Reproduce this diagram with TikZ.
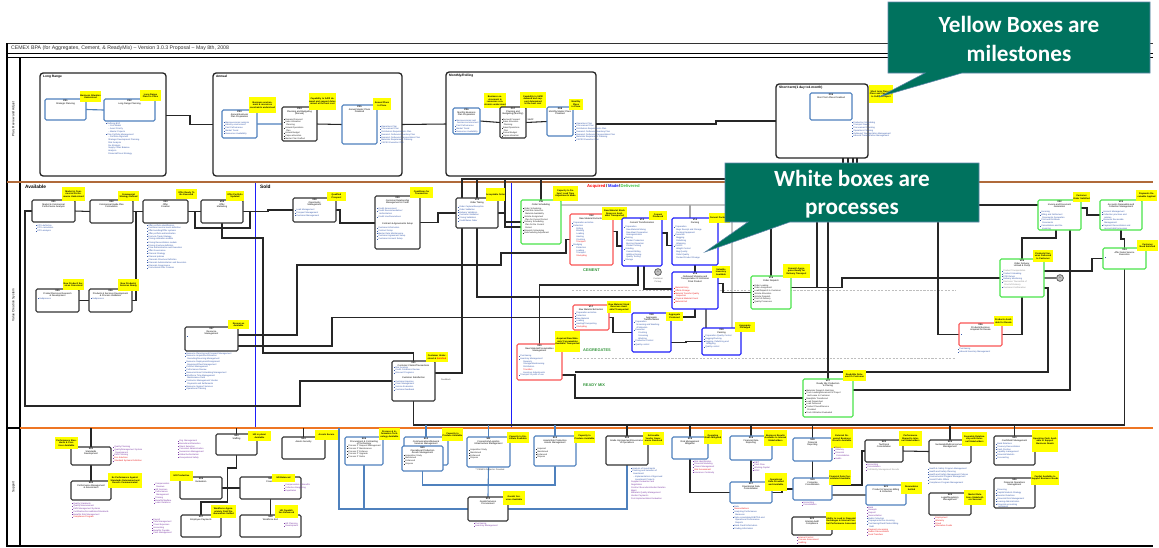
\documentclass[tikz,border=0pt]{standalone}
\usepackage{fontspec}
\setmainfont{Liberation Sans}
\newfontfamily\calloutfont{Carlito}
\usetikzlibrary{calc}
\pgfdeclarelayer{wires}
\pgfsetlayers{wires,main}

\definecolor{pblue}{RGB}{79,129,189}
\definecolor{mblue}{RGB}{30,30,250}
\definecolor{ared}{RGB}{250,85,85}
\definecolor{dgreen}{RGB}{75,228,75}
\definecolor{txtblue}{RGB}{55,90,170}
\definecolor{txtpurple}{RGB}{125,60,165}
\definecolor{txtred}{RGB}{235,30,30}
\definecolor{calloutfill}{RGB}{0,114,94}
\definecolor{calloutedge}{RGB}{96,134,170}
\definecolor{lanebrown}{RGB}{176,106,58}
\definecolor{laneorange}{RGB}{238,118,36}
\definecolor{msyellow}{RGB}{255,255,0}
\definecolor{lblgreen}{RGB}{52,150,60}
\definecolor{dashgray}{RGB}{190,190,190}

% list markers
\newcommand\bu{\textcolor{txtblue}{\rule[0.4pt]{0.9pt}{0.9pt}}\hspace{0.8pt}}
\newcommand\bpu{\textcolor{txtpurple}{\rule[0.4pt]{0.9pt}{0.9pt}}\hspace{0.8pt}}
\newcommand\kb{\rule[0.4pt]{0.9pt}{0.9pt}\hspace{0.8pt}}
\newcommand\ind{\hspace{3pt}}
\newcommand\rd[1]{\textcolor{txtred}{#1}}

\tikzset{
  boxbase/.style={line width=1.6pt, rounded corners=2pt, fill=white, inner sep=0pt, outer sep=0pt},
  kbox/.style={boxbase, draw=black!80},
  bbox/.style={boxbase, draw=pblue},
  mbox/.style={boxbase, draw=mblue},
  rbox/.style={boxbase, draw=ared},
  gbox/.style={boxbase, draw=dgreen},
  grp/.style={draw=black!85, line width=1.9pt, rounded corners=4.5pt, inner sep=0pt, outer sep=0pt},
  btitle/.style={font=\fontsize{3.3}{3.8}\selectfont, align=center, inner sep=0.3pt, text=black},
  mstone/.style={fill=msyellow, font=\bfseries\fontsize{3.2}{3.6}\selectfont, align=center, inner sep=0pt, outer sep=0pt},
  blist/.style={font=\fontsize{3.1}{3.9}\selectfont, align=left, inner sep=0pt},
  wire/.style={draw=black!85, line width=1.5pt},
  gwire/.style={draw=black!35, line width=1.5pt},
  bwire/.style={draw=pblue, line width=1.6pt},
  heading/.style={font=\bfseries\fontsize{6.8}{7}\selectfont, inner sep=0pt, anchor=north west},
  grplabel/.style={font=\bfseries\fontsize{4.6}{5}\selectfont, inner sep=0pt, anchor=north west},
  lanelabel/.style={font=\fontsize{4.6}{5}\selectfont, rotate=90, inner sep=0pt},
  prodlabel/.style={font=\bfseries\fontsize{5.6}{6}\selectfont, text=lblgreen, inner sep=0pt, anchor=north west},
  callout/.style={fill=calloutfill, draw=calloutedge, line width=0.8pt},
  callouttext/.style={font=\calloutfont\bfseries\fontsize{33}{40}\selectfont, text=white, align=center, inner sep=0pt},
  note/.style={font=\fontsize{3.1}{3.6}\selectfont, inner sep=0pt},
}

% process box: name, style, x1, y1, x2, y2, title
\newcommand\PB[7]{%
  \pgfmathsetmacro\pbw{(#5-#3)*0.05}%
  \pgfmathsetmacro\pbh{(#6-#4)*0.05}%
  \node[#2, anchor=north west, minimum width=\pbw cm, minimum height=\pbh cm] (#1) at (#3,#4) {};
  \node[btitle, anchor=north] (#1-t) at ([yshift=-0.8pt]#1.north) {#7};}
% milestone: name, x1, y1, x2, y2, text
\newcommand\MS[6]{%
  \pgfmathsetmacro\pbw{(#4-#2)*0.05}%
  \pgfmathsetmacro\pbh{(#5-#3)*0.05}%
  \node[mstone, anchor=north west, minimum width=\pbw cm, minimum height=\pbh cm, text width=\pbw cm] (#1) at (#2,#3) {#6};}
% bullet list: [colour], name, x, y, lines
\newcommand\BL[5][txtblue]{\node[blist, text=#1, anchor=north west] (#2) at (#3,#4) {#5};}
% horizon group: name, x1, y1, x2, y2, label
\newcommand\GR[6]{%
  \pgfmathsetmacro\pbw{(#4-#2)*0.05}%
  \pgfmathsetmacro\pbh{(#5-#3)*0.05}%
  \node[grp, anchor=north west, minimum width=\pbw cm, minimum height=\pbh cm] (#1) at (#2,#3) {};
  \node[grplabel] (#1-l) at ($(#1.north west)+(3,2.5)$) {#6};}

\begin{document}
\begin{tikzpicture}[x=0.05cm, y=-0.05cm]
\useasboundingbox (0,0) rectangle (1159,547);

% ================= frame and swim lanes =================
\begin{pgfonlayer}{wires}
\fill[white] (0,0) rectangle (1159,547);
\draw[line width=1.1pt, black!80] (7,43) -- (1153,43);
\draw[line width=1.1pt] (7,53.5) -- (1153,53.5);
\draw[line width=1.8pt] (7,57.5) -- (1153,57.5);
\draw[line width=1.6pt] (7,43) -- (7,546) -- (1153,546);
\draw[line width=1.6pt] (20,57.5) -- (20,546);
\draw[lanebrown, line width=2.6pt] (7,182) -- (1153,182);
\draw[laneorange, line width=1.8pt] (20,428) -- (1153,428);
\draw[line width=1.8pt] (7,428) -- (20,428);
\draw[mblue, line width=1.4pt] (255,183) -- (255,427);
\draw[mblue, line width=1.4pt] (511,183) -- (511,427);
\draw[dashgray, line width=1.8pt, dash pattern=on 3pt off 2pt] (572,290.5) -- (956,290.5);
\draw[dashgray, line width=1.8pt, dash pattern=on 3pt off 2pt] (573,358.5) -- (956,358.5);
\end{pgfonlayer}
\node[anchor=west, font=\fontsize{7.4}{8}\selectfont, inner sep=0pt, text=black!80] (title) at (11,48.3)
  {CEMEX BPA (for Aggregates, Cement, \& ReadyMix) – Version 3.0.3 Proposal – May 8th, 2008};
\node[lanelabel] (lane1) at (13.5,119) {Plan, Review and Adjust};
\node[lanelabel] (lane2) at (13.5,305) {Value Creation System};
\node[lanelabel] (lane3) at (13.5,487) {Support};

% ================= planning lane =================
\GR{G1}{40}{73}{166}{176}{Long Range}
\GR{G2}{213}{73}{402}{176}{Annual}
\GR{G3}{446}{72}{596}{176}{Monthly/Rolling}
\GR{G4}{776}{84}{868}{158}{Short term(1 day to1 month)}

\PB{P01}{bbox}{45}{99}{86}{120}{\textbf{P01}\\Strategic Planning}
\PB{P02}{bbox}{104}{99}{155}{121}{\textbf{P02}\\Long Range Planning}
\MS{M01}{80}{91}{101}{102}{Business Situation Understood}
\MS{M02}{140}{90}{161}{101}{Long Range Plans in Place}
\BL{L02}{106}{122.5}{\bu Defining BSP\\\ind – Cost Model\\\ind – Asset Priority\\\ind – Master Projects\\\bu Plan Portfolio Management\\\ind – Portfolio Alignment\\\ind Strategic Development Planning\\\ind Risk Analysis\\\ind Re-Strategic\\\ind Supply Chain Balance\\\ind Analysis\\\ind Financial/Fiscal Strategy}

\PB{P03}{bbox}{222}{110}{257}{138}{\textbf{P03}\\Annual Business\\Plan Preparation}
\BL{L03}{224}{121.5}{\bu Macroeconomic analysis\\\bu Industry environment\\\bu Past Performance\\\bu Market Trend\\\bu Resources Availability}
\MS{M03}{249}{97}{276}{113}{Business environment \& resources constraints understood}
\PB{P04}{kbox}{282}{107}{317}{141}{\textbf{P04}\\Planning and Budgeting\\(Annual)}
\BL[black!85]{L04}{284}{118.5}{\kb Demand Forecast\\\kb Sales Allocation\\\ind Planning\\\kb Annual Operations\\\ind Plan\\\kb Annual Budget\\\kb Capex allocation\\\kb Master Plan Drafted}
\MS{M04}{309}{93}{336}{110}{Capability to fulfill demand and support determined at the best cost}
\PB{P05}{bbox}{342}{105}{377}{144}{\textbf{P05}\\Annual Master Plans\\Finalized}
\MS{M05}{373}{98}{391}{110}{Annual Plans in Place}
\BL{L05}{380}{125.5}{\bu Operations Plan\\\bu Procurement Plan\\\bu Distribution Requirements Plan\\\bu Demand: Outbound Inventory Plan\\\bu Demand: Outbound Transportation Plan\\\bu Materials Requirement Planning\\\bu CAPEX Execution Plan}

\PB{P06}{bbox}{453}{108}{480}{134}{\textbf{P06}\\Monthly Business\\Plan Preparation}
\BL{L06}{455}{119.5}{\bu Macroeconomic and\\\ind business environment\\\bu Past Performance\\\bu Market Trend\\\bu Resources Availability}
\MS{M06}{484}{93}{506}{108}{Business environment \& resources constraints understood}
\PB{P07}{kbox}{500}{107}{526}{138}{\textbf{P07}\\Planning and\\Budgeting (Monthly)}
\BL[black!85]{L07}{501.5}{118.5}{\kb Demand Forecast\\\kb Sales Allocation\\\ind Planning\\\kb Sales/Operations\\\ind Plan\\\kb Annual Budget\\\kb Capex allocation}
\MS{M07}{520}{92}{546}{108}{Capability to fulfill demand and support determined at the best cost}
\node[note, anchor=south west] (sop) at (527.5,121) {S\&OP};
\PB{P08}{bbox}{547}{107}{573}{136}{\textbf{P08}\\Monthly Master Plans\\Finalized}
\MS{M08}{569}{99}{583}{110}{Monthly Plans in Place}
\BL{L08}{575}{122.5}{\bu Operations Plan\\\bu Procurement Plan\\\bu Distribution Requirements Plan\\\bu Demand: Outbound Inventory Plan\\\bu Demand: Outbound Transportation Plan\\\bu Materials Requirement Planning\\\bu CAPEX Execution Plan}

\PB{P09}{bbox}{810}{93}{852}{120}{\textbf{P09}\\Short Term Plans Finalized}
\MS{M09}{869}{85}{893}{103}{Short term Plans in Place and Capability to Fulfill Prospect}
\BL{L09}{852}{121.5}{\bu Production Scheduling\\\bu Transport Needs\\\bu Procurement Planning\\\bu Operations Planning\\\bu Outbound Transportation Management\\\bu Inbound Transportation Management}

% ================= value creation lane =================
\node[heading] (avail) at (25,185) {Available};
\node[heading] (sold) at (260,185) {Sold};
\node[anchor=north west, font=\bfseries\fontsize{6}{6}\selectfont, inner sep=0pt] (amd) at (587,183.8)
  {\textcolor{red}{Acquired}\,/\,\textcolor{mblue}{Made}/\,\textcolor{dgreen!85!black}{Delivered}};
\node[prodlabel] (cement) at (583,269) {CEMENT};
\node[prodlabel] (aggr) at (583,349) {AGGREGATES};
\node[prodlabel] (rmix) at (583,384) {READY MIX};

\PB{V01}{kbox}{32}{200}{75}{222}{\textbf{V01}\\Market \& Commercial\\Performance Analysis}
\MS{MV01}{62}{187}{85}{201}{Market \& Commercial Performance Understood}
\BL{LV01}{36}{224.5}{\bu KPI's definition\\\bu KPI's calculation\\\bu KPI's analysis}
\PB{V02}{kbox}{90}{200}{133}{223}{\textbf{V02}\\Commercial Guide Plan\\Formulation}
\MS{MV02}{118}{191}{139}{201}{Commercial Strategy Defined}
\PB{V03}{kbox}{143}{200}{188}{223}{\textbf{V03}\\Offer\\Creation}
\MS{MV03}{176}{189}{197}{198.5}{Offer Ready To Be Executed}
\BL{LV03}{147}{224.5}{\bu Offer portfolio identification\\\bu Customer service levels definition\\\bu Offer bundling/Offer systems\\\bu Offer portfolio administration\\\bu Promote Trade Strategy\\\bu Pricing calibration models\\[1pt]\bu Pricing Reconciliation models\\\bu Pricing structure definition\\\bu Price Administration and Execution\\\bu Offer Governance\\\bu Channel Strategy\\\bu Channel policies\\[1pt]\bu Channels Structure Definition\\\bu Channels Administration and Execution\\\bu Channels Governance\\\bu Promotional Offer Creation}
\PB{V04}{kbox}{201}{200}{243}{223}{\textbf{V04}\\Offer\\Marketing}
\MS{MV04}{226}{191}{244}{201}{Offer Portfolio Updated}
\PB{V05}{kbox}{36}{289}{79}{312}{\textbf{V05}\\Product/Services Research\\\& Development}
\BL{LV05}{38}{297.5}{\bu Subprocess}
\MS{MV05}{63}{279}{84}{290}{New Product/ Services Conceived}
\PB{V06}{kbox}{89}{289}{132}{312}{\textbf{V06}\\Products \& Services Development\\\& Process Validation}
\BL{LV06}{91}{297.5}{\bu Subprocess}
\MS{MV06}{118}{279}{139}{291}{New Products/ Services Ready}
\PB{V07}{kbox}{185}{327}{238}{351}{\textbf{V07}\\Resource\\Management}
\BL{LV07x}{187}{336}{\bu}
\MS{MV07}{228}{320}{249}{329}{Resources Available}
\BL{LV07}{185}{352.5}{\bu Resource Planning and Forecast Management\\\bu Resource Acquisition/Allocation\\\ind Recruiting/Sourcing Management\\\bu Resource Deployment/Assignment\\\ind Equipment/Fleet Management\\\bu Contract Management\\\bu Performance Review\\\bu Resource/Asset Scheduling Management\\\bu Workforce Time Management\\\ind Maintenance Field\\\bu Contractor Management/ Vendor\\\ind Payments and Settlements\\\bu Resource Support Services\\\bu Operational Training}
\PB{V08}{kbox}{293}{198}{336}{222}{\textbf{V08}\\Opportunity\\Management}
\BL{LV08}{295}{209}{\bu Lead Management\\\bu Prospect Management\\\bu Customer Management}
\MS{MV08}{327}{192}{346}{200.5}{Qualified Prospect}
\PB{V09}{kbox}{375}{196}{420}{249}{\textbf{V09}\\Customer Relationship\\Management \& Credit}
\BL{LV09a}{377}{207.5}{\bu Credit Assessment\\\bu Credit Recommendation/\\\ind Authorization\\\bu Credit Line/Guarantees}
\node[btitle, anchor=north] (V09-s) at ($(V09.north)+(0,27)$) {Contract \& Agreements Setup};
\BL{LV09b}{377}{227}{\bu Customer Information\\\bu Contract Setup\\\bu Master Data Maintenance\\\bu Customer Agreement Setup\\\bu Customer Account Setup}
\MS{MV09}{410}{187}{433}{198}{Conditions for Transaction}
\PB{V10}{kbox}{456}{198}{498}{228}{\textbf{V10}\\Order Taking}
\BL{LV10}{458}{206}{\bu Order Capture/Reception\\\bu Order Validation\\\bu Delivery Validation\\\bu Customer Validation\\\bu Pricing Validation\\\bu Credit/Sales Order}
\MS{MV10}{486}{188}{505}{201}{Acceptable Order}
\PB{V11}{gbox}{521}{200}{561}{244}{\textbf{V11}\\Order Scheduling}
\BL[black!85]{LV11}{523}{207.5}{\kb Order Scheduling\\\kb Plant/Site Selection\\\ind Material Availability\\\kb Vehicle Assignment\\\ind Plan for Current Period\\\kb Delivery Scheduling\\\ind Plan for the Current\\\ind Period\\\kb Dispatch Scheduling\\\kb Rescheduling Adjustment}
\MS{MV11}{553}{186}{578}{201}{Capacity to Deliver/ Lead Time Adjustments Made}
\PB{V12}{rbox}{570}{214}{613}{265}{\textbf{V12}\\Raw Material Extraction}
\BL{LV12}{572}{222}{\bu Preparation activities\\\bu Extraction\\\ind\ind Drilling\\\ind\ind Blasting\\\ind\ind Loading\\\ind\ind Hauling\\\ind\ind Crushing\\\ind\ind \rd{Transport}\\\bu Dredging\\\ind\ind Extraction\\\ind\ind Loading\\\ind\ind Transport\\\ind\ind \rd{Stockpiling}}
\MS{MV12}{602}{207}{627}{220}{Raw Material Stock Reserves Available/ Transported}
\PB{V13}{mbox}{622}{218}{662}{266}{\textbf{V13}\\Cement Transformation}
\BL{LV13}{624}{226}{\bu Preparation\\\ind Raw Material Mixing\\\ind Raw Meal Preparation\\\ind Homogenization\\\bu Burning\\\ind Clinker Production\\\ind Burning Operation\\\ind Clinker Cooling\\\bu Grinding\\\ind Cement Milling\\\ind Additive Dosing\\\ind Quality Testing\\\bu Storage}
\MS{MV13}{649}{211}{667}{220}{Cement Produced}
\PB{V14}{mbox}{672}{218}{718}{265}{\textbf{V14}\\Packing}
\BL{LV14}{674}{226}{\bu Preparation\\\ind Bags Receipt and Storage\\\ind Packing Equipment\\\bu Execution\\\ind Bagging\\\ind Palletizing\\\ind Wrapping\\\bu Control\\\ind Weight Control\\\ind Bag Quality\\\ind Pallet Quality\\[1pt]\ind Packed Product Storage}
\MS{MV14}{709}{213}{730}{223}{Cement Packaged}
\node[circle, draw=black!70, fill=black!25, line width=0.9pt, minimum size=0.34cm, inner sep=0pt, font=\fontsize{2.5}{3}\selectfont] (c1) at (658,272) {R};
\node[note, text=black!60, align=center, anchor=north] (c1-l) at (658,278) {Customer\\Pickup};
\PB{V15}{mbox}{672}{272}{718}{309}{\textbf{V15}\\Outbound Shipping and\\Transportation to Customer\\Final Product}
\BL[txtred]{LV15}{674}{287}{\kb Material Entry\\\kb Offsite Storage\\\kb Material Transfer Quality\\\ind Inspection\\\kb Physical Material Count\\\kb Material Exit}
\MS{MV15}{712}{266}{730}{278}{Saleable Inventory Available}
\PB{V16}{gbox}{751}{276}{791}{309}{\textbf{V16}\\Order Dispatch}
\BL[black!85]{LV16}{753}{284.5}{\kb Order Loading\\\kb Order Assignment\\\kb Load/Dispatch to Customer\\\kb Vehicle Allocation\\\kb Vehicle Dispatch\\\kb Proof-of-Delivery\\\kb Quality Processes}
\MS{MV16}{783}{264}{810}{278}{Cement/ Aggregates Ready for Delivery Transport}
\PB{V17}{rbox}{573}{305}{609}{330}{\textbf{V17}\\Raw Material Extraction}
\BL{LV17}{575}{312}{\bu Preparation activities\\\bu Extraction\\\bu Raw Material\\\bu Loading\\\bu Hauling/Transporting\\\bu \rd{Stockpiling}}
\MS{MV17}{607}{301}{631}{313}{Raw Material Stock Reserves Available/ Transported}
\PB{V18}{mbox}{632}{313}{671}{352}{\textbf{V18}\\Aggregate\\Transformation}
\BL{LV18}{634}{321}{\bu Preparation\\\ind Screening and Washing\\\ind of Materials\\\bu Execution\\\ind\ind Crushing\\\ind\ind Screening\\\ind\ind Washing\\\bu Production Control\\[1pt]\bu Quality control}
\MS{MV18}{666}{312}{683}{320.5}{Aggregate Produced}
\PB{V19}{mbox}{702}{328}{741}{355}{\textbf{V19}\\Packing}
\BL{LV19}{704}{335}{\bu Preparation Quality Control\\\bu Bagging/Packing\\\bu Bagging, Palletizing and\\\ind Wrapping\\\bu Quality control}
\MS{MV19}{735}{322}{755}{332}{Aggregate Packaged}
\PB{V20}{rbox}{517}{344}{562}{380}{\textbf{V20}\\Raw Material/Consumables\\Management}
\BL{LV20}{519}{355}{\bu Purchasing\\\bu Inventory Management\\\ind\ind Receipts\\\ind\ind Storage/Warehousing\\\ind\ind Distribution\\\ind\ind \rd{Transfers}\\\ind\ind Inventory Adjustments\\\bu Transport to point of use}
\MS{MV20}{555}{331}{580}{352}{Acquired Raw Materials/ Consumables Available/ Transported}
\PB{V21}{kbox}{392}{361}{435}{401}{\textbf{V21}\\Customer Claims/Transactions}
\BL{LV21a}{394}{366.5}{\bu Risk Analysis\\\bu Credit Conditions Review\\\bu Discount Programs}
\node[btitle, anchor=north] (V21-s) at ($(V21.north)+(0,15.5)$) {Customer Satisfaction};
\BL{LV21b}{394}{380.5}{\bu Customer Inquiries\\\bu Claim Management\\\bu Service Evaluation\\\bu Customer feedback}
\MS{MV21}{426}{352}{448}{362}{Customer Understood \& \textcolor{red}{Satisfied}}
\node[note, text=black!70, anchor=west] (fbk) at (441,380) {Feedback};
\PB{V22}{gbox}{1038}{200}{1081}{230}{\textbf{V22}\\Invoice and Document\\Generation}
\BL{LV22}{1040}{211}{\bu Invoicing\\\bu Billing and Settlement\\\ind Documents Generation\\\bu Print and Distribute\\\ind Documents\\\bu Cancellations and Re-\\\ind invoicing}
\MS{MV22}{1073}{192}{1090}{202}{Customer Order Satisfied}
\PB{V23}{gbox}{1100}{200}{1142}{230}{\textbf{V23}\\Accounts Receivable and\\Collection Management}
\BL{LV23}{1102}{211}{\bu Account Management\\\bu Collection practices and\\\ind policies\\\bu Accounts Receivable\\\ind Management\\\bu Payment Reconciliation and\\\ind account debt processes}
\MS{MV23}{1136}{190}{1157}{201}{Payments Receivable Applied}
\PB{V24}{gbox}{1103}{248}{1146}{269}{\textbf{V24}\\After Sales Service\\Execution}
\BL{LV24}{1105}{256.5}{\bu}
\MS{MV24}{1137}{240}{1158}{251}{Customer Need Satisfied}
\PB{V25}{gbox}{1000}{259}{1044}{297}{\textbf{V25}\\Order Delivery,\\Unload \& Pump}
\BL{LV25}{1002}{270}{\bu \textcolor{black!45}{Product Transportation}\\\bu Product Unloading\\\bu POD Return\\\bu Delivery Monitoring\\\bu \textcolor{black!45}{Electronic Transmittal of}\\\ind \textcolor{black!45}{Proof-of-Delivery}\\\bu \textcolor{black!45}{Customer Confirmation}}
\MS{MV25}{1033}{250}{1053}{262}{Products/ Services Delivered to Customer}
\node[circle, draw=black!70, fill=black!25, line width=0.9pt, minimum size=0.34cm, inner sep=0pt, font=\fontsize{2.5}{3}\selectfont] (c2) at (1060,278) {D};
\PB{V26}{rbox}{959}{323}{1002}{346}{\textbf{V26}\\Products/Services\\Acquired for Resale}
\BL{LV26x}{961}{334}{\bu}
\BL{LV26}{958}{348}{\bu Purchasing\\\bu Inbound Inventory Management}
\MS{MV26}{994}{316}{1013}{326}{Products Available for Resale}
\PB{V27}{gbox}{803}{379}{853}{417}{\textbf{V27}\\Ready Mix Production\\\& Placing}
\BL[black!85]{LV27}{805}{389.5}{\kb Materials Dispatch, Batching\\\kb Truck Loading/Movement to Project\\\ind and Lease to Customer\\\kb ReadyMix Transferred\\\kb Load Dispatched\\\kb Load Delivered\\\kb Product Placed/Service\\\ind Provided\\\kb Truck Utilization Evaluated}
\MS{MV27}{843}{370}{866}{381}{ReadyMix Delivered to Customer}

% ================= support lane =================
\PB{S01}{kbox}{71}{447}{111}{465}{\textbf{S01}\\Standards\\Development}
\MS{MS01}{55}{437}{78}{449}{Performance Standards \& Practices Available}
\BL[txtpurple]{LS01}{113}{446}{\bpu Quality Planning\\\bpu Quality/Management System\\\ind Development\\\bpu EMS Planning\\\rd{\bpu Eco-Solutions}\\\rd{\bpu Standard Systems Definition}}
\PB{S02}{kbox}{71}{481}{111}{500}{\textbf{S02}\\Performance Management\\\& Assessment}
\MS{MS02}{108}{473}{142}{488}{Ex Performance Against Standards Determined and Results Communicated}
\BL[txtpurple]{LS02}{72}{502.5}{\bpu Quality Standards\\\bpu Quality Measurement\\\bpu EMS Management Systems\\\bpu Certification/Accreditation/Standards\\\bpu Benefits Risk Management\\\rd{\bpu Compliance Program}}
\PB{S03}{kbox}{216}{434}{257}{455}{\textbf{S03}\\Staffing}
\MS{MS03}{248}{431}{271}{441}{HR in place/ Available}
\BL[txtpurple]{LS03}{178}{440}{\bpu Org. Management\\\bpu Recruitment/Selection\\\bpu Talent Selection\\\bpu Personnel Administration\\\bpu Succession Management\\\bpu Global Authorization\\\bpu Occupational Safety}
\PB{S04}{kbox}{282}{437}{325}{459}{\textbf{S04}\\Assets Security}
\MS{MS04}{315}{430}{338}{440}{Assets Secure}
\PB{S05}{kbox}{180}{477}{222}{499}{\textbf{S05}\\Evaluation}
\MS{MS05}{170}{471}{193}{481}{HR Productive}
\BL[txtpurple]{LS05}{154}{483}{\bpu Compensation\\\ind Reviews\\\bpu HR Services\\\bpu Performance\\\ind Management\\\bpu Training\\\bpu Benefits/Welfare\\\bpu Labor Relations}
\PB{S06}{kbox}{240}{477}{301}{499}{\textbf{S06}\\Finance}
\MS{MS06}{272}{474}{295}{482}{HR Balanced}
\BL[txtpurple]{LS06}{284}{484}{\bpu Compensation \& Benefits\\\bpu Collective Bargaining\\\bpu Expatriates}
\PB{S07}{kbox}{181}{515}{221}{537}{\textbf{S07}\\Employee Payments}
\MS{MS07}{211}{505}{236}{518}{Workforce Appropriately Paid/ Remuneration Settled}
\BL[txtpurple]{LS07}{152}{518.5}{\bpu Payroll\\\bpu Time Management\\\bpu Travel Expenses\\\bpu Accounting\\\bpu Benefits Payable\\\bpu Cash Management}
\PB{S08}{kbox}{240}{515}{301}{537}{\textbf{S08}\\Workforce Exit}
\MS{MS08}{275}{505}{298}{518}{HR Capabilities Enhanced}
\BL[txtpurple]{LS08}{284}{522.5}{\bpu HR Planning\\\bpu Development}

\PB{S09}{bbox}{345}{437}{383}{465}{\textbf{S09}\\Procurement \& Contracting\\of Technology}
\BL[black!85]{LS09}{347}{445}{\kb Process IT Request Management\\\kb Process IT Maintenance\\\kb Process IT Enhance\\\kb Process IT Upgrade\\\kb Process IT Retire}
\MS{MS09}{379}{428}{400}{440}{Process \& Information Technology Available}
\PB{S10a}{bbox}{404}{437}{448}{465}{\textbf{S10}\\Communications/Network\\Services Management}
\PB{S10}{bbox}{402}{446}{443}{471}{\textbf{S10}\\Operational Production\\Assets Management}
\BL[black!85]{LS10}{404}{454.5}{\kb Acquisition Study\\\kb Maintained\\\kb Enhanced\\\kb Dispose}
\MS{MS10}{442}{428}{463}{441}{Capacity to Produce Available}
\PB{S11}{bbox}{467}{437}{510}{467}{\textbf{S11}\\Connectivity/Logistics\\Infrastructure Management}
\BL[black!85]{LS11}{469}{449}{\kb Acquisition Study\\\kb Maintained\\\kb Enhanced\\\kb Dispose}
\MS{MS11}{507}{432}{529}{443}{Capacity to Distribute Available}
\node[note, text=black!75, anchor=north] (owned) at (490,468.5) {**CEMEX Owned or Provided};
\PB{S12}{bbox}{534}{436}{576}{466}{\textbf{S12}\\Assets/Site Production\\Assets Management}
\BL[black!85]{LS12}{536}{448}{\kb Acquired\\\kb Maintained\\\kb Enhanced\\\kb Dispose}
\MS{MS12}{574}{431}{595}{443}{Capacity to Produce Available}
\PB{S13}{kbox}{468}{497}{508}{521}{\textbf{S13}\\Goods/Services\\Procurement}
\MS{MS13}{503}{491}{525}{505}{Goods/ Services Available}
\BL[txtpurple]{LS13}{474}{522.5}{\bpu Purchasing\\\bpu Inventory Management}
\PB{S14}{kbox}{606}{436}{648}{465}{\textbf{S14}\\Grade Improvement/Governance\\of Operations}
\MS{MS14}{643}{432}{664}{445}{Actionable Vendor Governance Resolved}
\BL{LS14}{631}{467.5}{\bu Analysis of Investments\\\bu Planning and Selection of\\\ind Investment\\\ind – Implementation of Approved\\\ind\ind Investment Projects\\\textcolor{txtpurple}{Supplier Evaluation and}\\\textcolor{txtpurple}{Negotiation}\\\textcolor{txtpurple}{Contract Execution/Vendor Relation}\\\textcolor{txtpurple}{Mgmt.}\\\textcolor{txtpurple}{Materials Quality Management}\\\textcolor{txtpurple}{Vendor Payments}\\\textcolor{txtpurple}{Post-Implementation Evaluation}}
\PB{S15}{bbox}{672}{437}{708}{459}{\textbf{S15}\\Risk Management\\Mitigation}
\MS{MS15}{704}{430}{722}{444}{Operating Risks Mitigated}
\BL[txtpurple]{LS15}{693}{460.5}{\bpu Risk Identification\\\bpu Financial Modeling\\\bpu Claims Management\\\rd{\bpu Risk Assessment}\\\bpu Insurance Continuity}
\PB{S16}{bbox}{730}{436}{772}{460}{\textbf{S16}\\Financial Data\\Reporting}
\MS{MS16}{764}{430}{787}{446}{Business Results Available to Internal Stakeholders}
\BL[txtpurple]{LS16}{753}{461.5}{\bpu EBIT\\\bpu Cash Flow\\\bpu Working Capital\\\bpu ROIC}
\PB{S17}{bbox}{730}{482}{772}{503}{\textbf{S17}\\Operational Data\\Consolidation}
\MS{MS17}{765}{473}{787}{491}{Operational Data Provided and Available}
\BL{LS17}{733}{505.5}{\bu Data\\\rd{\bu Reconciliations}\\\bu Analyzing Performance\\\ind Measures\\\bu Data consolidated EBITDA and\\\ind Operational Performance\\\ind Reports\\\bu Bank Credit Information\\\bu Trading Information}
\PB{S18}{bbox}{793}{438}{832}{461}{\textbf{S18}\\Financial\\Reporting}
\MS{MS18}{831}{429}{853}{448}{External Required Business Results Available}
\BL[txtpurple]{LS18}{834}{446.5}{\bpu Taxes\\\bpu Statutory\\\bpu Financial\\\ind Consolidation\\\bpu Audits}
\PB{S19}{bbox}{793}{478}{832}{500}{\textbf{S19}\\Corporate\\Consolidation}
\MS{MS19}{829}{470}{851}{485}{Financial Data Consolidated Available}
\BL[txtpurple]{LS19}{802}{501.5}{\bpu Accounting\\\bpu Consolidation}
\PB{S20}{kbox}{865}{440}{903}{462}{\textbf{S20}\\Tax/Fiscal\\Consolidation}
\MS{MS20}{899}{431}{922}{446}{Performance Shared to Internal Stakeholders}
\BL[txtpurple]{LS20}{866}{463.5}{\bpu Accounting\\\bpu Consolidation\\\textcolor{black!45}{\bpu Profitability Management Results}}
\PB{S21}{bbox}{866}{485}{906}{505}{\textbf{S21}\\Product \& Services Billing\\\& Collection}
\MS{MS21}{901}{482}{922}{494}{Receivables Settled}
\BL[txtpurple]{LS21}{867}{506.5}{\bpu Bank\\\bpu Receipts\\\bpu Deposit\\\bpu Reconciliation\\\textcolor{txtblue}{\bu Debts Collection}\\\textcolor{txtblue}{\bu Prepayments/Pre-Invoicing}\\\textcolor{txtblue}{\bu Purchasing/Credit Notes Billing}\\\textcolor{txtblue}{\ind Debt}\\\rd{\bpu Payment processing}\\\rd{\bpu Debtor Reconciliation}\\\rd{\bpu Fund Transfers}}
\PB{S22}{kbox}{792}{517}{832}{535}{\textbf{S22}\\Internal Audit\\Compliance}
\MS{MS22}{826}{512}{856}{530}{Ability to Lead to Financial Exchanges \& Internal Control Performance Assessed}
\BL[txtred]{LS22}{797}{536.5}{\bpu Internal Control\\\bpu Process Assessment\\\bpu Auditing}
\PB{S23}{kbox}{929}{440}{971}{463}{\textbf{S23}\\Sustainability/Environmental\\Management}
\MS{MS23}{962}{432}{987}{446}{Favorable Relationship with External Stakeholders}
\BL{LS23}{928}{468}{\bu Health \& Safety Program Management\\\bu Health and Safety Planning\\\bu Health and Safety Management Policies\\\bu Environmental Program Management\\\bu Social/ Public Affairs\\\bu Compliance Program Management}
\PB{S24}{kbox}{929}{493}{971}{515}{\textbf{S24}\\Legal/Regulatory\\Management}
\MS{MS24}{964}{490}{986}{505}{Market Relations Stakeholders Secured}
\BL[txtred]{LS24}{934}{517}{\bpu Employment\\\bpu Warranty\\\bpu Fraud\\\bpu Alternative Funds}
\PB{S25}{kbox}{994}{436}{1035}{465}{\textbf{S25}\\Cash/Debt Management}
\BL{LS25}{996}{443}{\bu Bank Relations\\\bu Treasury Reconciliation\\\bu Cash Position\\\bu Liquidity management\\\bu Financial Markets\\\bu Forecasting}
\MS{MS25}{1032}{430}{1058}{452}{Operating Cash Available to Support Business Needs}
\PB{S26}{kbox}{994}{478}{1035}{508}{\textbf{S26}\\Financial Operations\\Management}
\BL{LS26}{996}{489}{\bu Financing\\\bu Capital Markets Strategy\\\bu Investor Relations\\[1pt]\bu Financial Risk Management\\\bu Leasing Administration\\\bu Financial accounting\\\ind settlement}
\MS{MS26}{1031}{471}{1059}{485}{Capital Available to Support Business Needs}

% ================= connectors =================
\coordinate (jA) at (817,287.5);
\begin{pgfonlayer}{wires}
% planning horizons
\draw[bwire] (P01.east) -- (P02.west);
\draw[bwire] (P03.east) -- (P04.west);
\draw[wire] (P04.east) -- (P05.west);
\draw[wire] (P06.east) -- (P07.west);
\draw[wire] (P07.east) -- (P08.west);
\draw[wire] (G1.east) ++(0,-9) -- ++(24,0) |- (G2.west);
\draw[wire] (G2.east) -- (G3.west);
\draw[wire] (G3.east) -- ++(120,0) |- (G4.west);
% short-term plans feeding execution
\draw[wire] ($(G4.south)+(26,0)$) -- ++(0,42) -| (jA);
\draw[wire] ($(G4.south)+(31,0)$) -- ++(0,52) -| (V27.north);
\draw[wire] ($(G4.south)+(35,0)$) |- ($(V22.west)+(0,-10)$);
\draw[wire] (V26.west) -- ++(-21,0) -- ++(0,-129.5);
% feedback from claims up to planning
\draw[wire] ($(V21.east)+(0,-8)$) -- ++(27,0) |- ($(G4.south)+(21,21)$) -- ($(G4.south)+(21,0)$);
\draw[wire] (V10.north) -- ++(0,-19);
\draw[wire] (V11.north) -- ++(0,-21);
\draw[wire] (V11.west) -- ++(-16,0) -- ++(0,-43);
\draw[gwire] ($(V11.east)+(0,-17)$) -- ++(171,0) -- ($(V19.north)+(10.5,0)$);
\draw[gwire] ($(V14.north)+(-5,0)$) -- ++(0,-13);
% offer and sales chain
\draw[wire] (V01.east) -- (V02.west);
\draw[wire] (V02.east) -- ++(3,0) |- (V03.west);
\draw[wire] (V06.east) -- ++(4,0) |- (V03.west);
\draw[wire] (V05.east) -- (V06.west);
\draw[wire] (V03.east) -- (V04.west);
\draw[wire] ($(V03.east)+(7,0)$) -- ++(0,16.5) -| ($(V04.east)+(7,0)$);
\draw[wire] (V04.east) -- ++(25,0) |- (V08.west);
\draw[wire] (V04.south) -- ++(0,15) -| ++(41,115) -| (V21.north);
\draw[wire] (V08.east) -- ++(4,0) |- ($(V09.west)+(0,0.5)$);
\draw[wire] (V09.east) -- ++(18,0) |- (V10.west);
\draw[wire] (V10.east) -- ++(7,0) |- ($(V11.west)+(0,5)$);
\draw[wire] (V21.west) -- ++(-92,0) -- ++(0,25) -| ($(V01.west)+(-7,0)$) -- (V01.west);
% resources into the product chains
\draw[wire] ($(V07.east)+(0,-4)$) -- ++(59,0) |- ++(204,-70) |- ++(65,-12) |- (V12.west);
\draw[wire] ($(V07.east)+(0,7)$) -- ++(94,0) |- (V17.west);
\draw[wire] (V10.south) |- ($(V15.west)+(0,6.5)$);
% cement
\draw[wire] ($(V12.east)+(0,-8)$) -- ++(4,0) |- ($(V13.west)+(0,4)$);
\draw[wire] ($(V13.east)+(0,-9)$) -- ++(5,0) |- ($(V14.west)+(0,4)$);
\draw[wire] (V14.south) -- (V15.north);
\draw[wire] ($(V13.south)+(-4,0)$) -- ++(0,19) -| (V20.north);
\draw[wire] ($(V13.south)+(2,0)$) |- ($(V15.west)+(0,-1.5)$);
\draw[wire] ($(V15.east)+(0,-7)$) -- ++(5,0) |- (V16.west);
\draw[wire] ($(V16.east)+(0,-5)$) -- ++(51,0) |- (V25.west);
\draw[wire] (V16.north) -- ++(0,-55);
% aggregates
\draw[wire] (V17.east) -- ++(4,0) |- (V18.west);
\draw[wire] ($(V18.east)+(0,-15.5)$) -| (V15.south);
\draw[wire] ($(V18.east)+(0,10)$) -- ++(15,0) |- (V19.west);
\draw[wire] ($(V19.north)+(-15.5,0)$) -- ($(V15.south)+(11,0)$);
% ready mix
\draw[wire] ($(V20.east)+(0,13)$) -- ++(13,0) |- (V27.west);
\draw[wire] ($(V25.east)+(0,10)$) -- ++(4,0) |- ($(V20.east)+(13,10)$);
% delivery, billing, after sales
\draw[wire] (V21.south) -- ++(0,24) -| (V24.south);
\draw[wire] ($(V22.east)+(0,-7)$) -- ++(6,0) |- (V23.west);
\draw[wire] (V23.south) -- ++(0,9) -| (V24.north);
\draw[wire] (V25.north) -- ++(0,-21) -| ($(V22.south)+(-3.5,0)$);
\draw[wire] ($(V25.east)+(0,-7)$) -- ++(48,0) |- (V24.west);
\draw[wire] (V25.east) -- (c2);
\draw[wire] (V26.east) -| (V25.south);
\draw[wire] ($(V27.east)+(0,-8)$) -| ($(V22.south)+(10.5,0)$);
% support
\draw[wire] (S01.north) -- ++(0,-19);
\draw[wire] (S01.south) -- (S02.north);
\draw[wire] (S03.north) -- ++(0,-6);
\draw[wire] (S04.north) -- ++(0,-9);
\draw[wire] (S03.south) -- ++(0,13) -| ++(-9,34) -| (S07.north);
\draw[wire] (S05.east) -- (S06.west);
\draw[wire] (S06.south) -- (S08.north);
\draw[bwire] (S13.west) -| ($(S09.west)+(-6,-23)$);
\draw[bwire] (S09.south) -- ++(0,43.5);
\draw[bwire] (S13.east) -| (S14.south);
\draw[bwire] (S10.south) |- ($(S13.north)+(0,-12)$) -| (S12.south);
\draw[bwire] (S11.south) -- (S13.north);
\draw[bwire] (S10a.north) -- ++(0,-12);
\draw[bwire] (S11.north) -- ++(0,-12);
\draw[bwire] (S12.north) -- ++(0,-11);
\draw[wire] (S14.north) -- ++(0,-11);
\draw[wire] (S15.north) -- ++(0,-12);
\draw[wire] (S16.north) -- ++(0,-11);
\draw[wire] (S18.north) -- ++(0,-13);
\draw[wire] (S23.north) -- ++(0,-15);
\draw[wire] (S25.north) -- ++(0,-11);
\draw[wire] (S15.south) |- (S17.west);
\draw[wire] (S16.south) -- (S17.north);
\draw[wire] (S17.east) -- ++(10,0) |- (S19.west);
\draw[wire] (S18.south) -- (S19.north);
\draw[wire] ($(S19.east)+(0,-4)$) -- ++(30,0) |- (S20.west);
\draw[wire] ($(S19.east)+(0,6)$) -- (S21.west);
\draw[wire] (S20.east) -- (S23.west);
\end{pgfonlayer}

% ================= callouts =================
\path[callout] (888,2) -- (1150,2) -- (1150,73) -- (962,73) -- (879,97) -- (925,73) -- (888,73) -- cycle;
\node[callouttext] (co1) at (1019,39) {Yellow Boxes are\\milestones};
\path[callout] (725,163) -- (979,163) -- (979,222) -- (790,222) -- (705,252) -- (748,222) -- (725,222) -- cycle;
\node[callouttext] (co2) at (852,194) {White boxes are\\processes};
\end{tikzpicture}
\end{document}
